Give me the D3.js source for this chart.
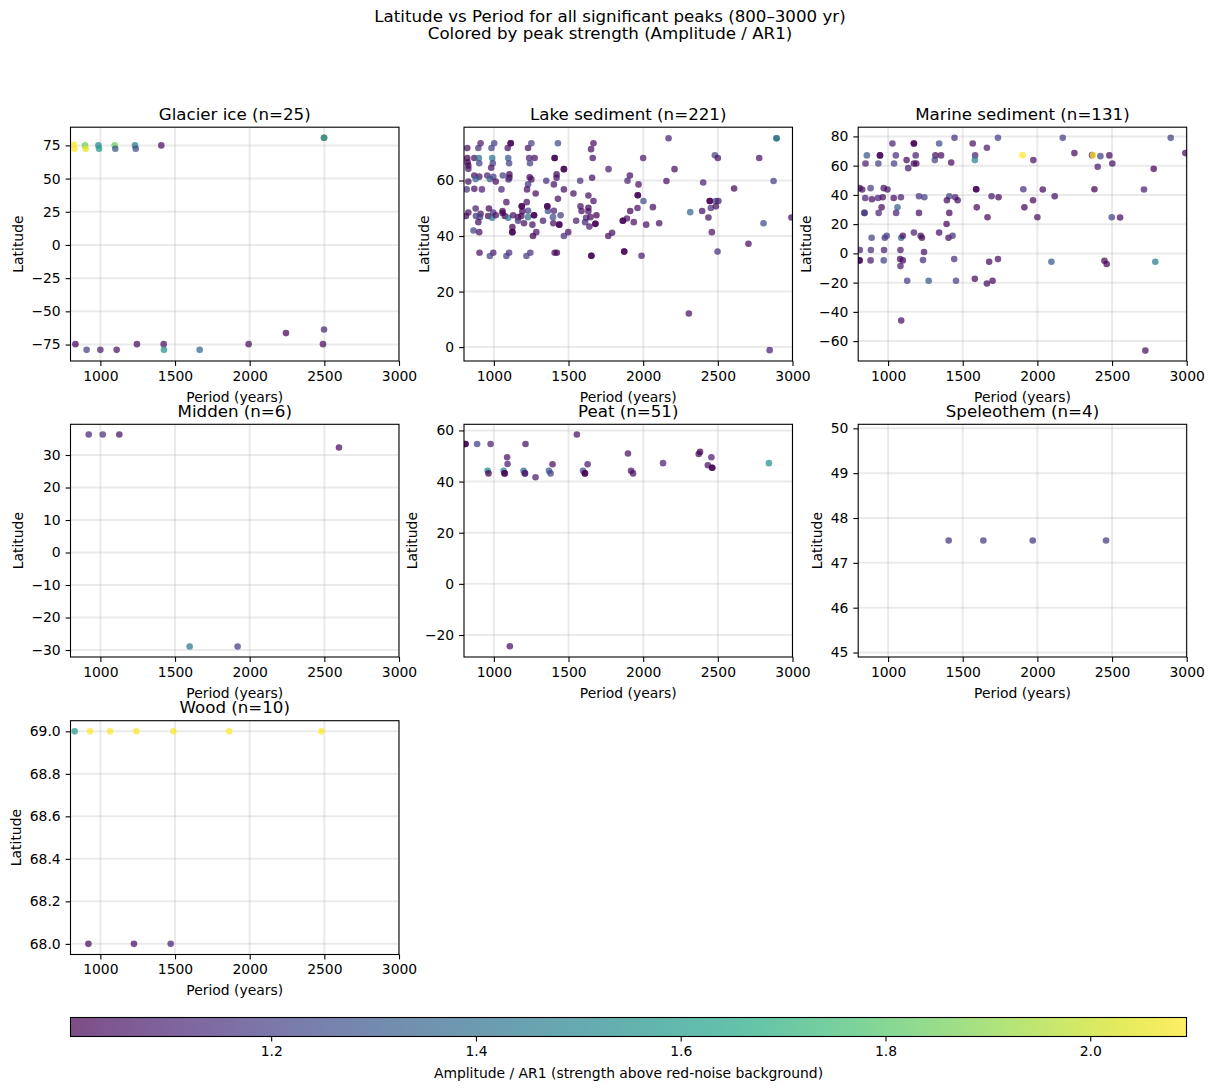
<!DOCTYPE html>
<html><head><meta charset="utf-8">
<style>
html,body{margin:0;padding:0;background:#fff}
svg{display:block}
text{font-family:"DejaVu Sans",sans-serif;fill:#000}
</style>
<script src="https://cdn.jsdelivr.net/npm/d3@7"></script>
</head><body><div id="chart"></div>
<script>
const glacierPeriod=[822,826,897,902,987,991,1096,1100,1232,1237,1408,2498,2498,2498,2243,1993,2491,833,908,1000,1109,1245,1424,1426,1665];
const glacierLat=[75.5,72.5,75,72.5,75,72.5,75,72.5,75,72.5,75,80.7,80.7,-63.7,-66.4,-74.7,-74.7,-74.7,-79,-79,-79,-74.7,-74.7,-79,-79];
const glacierAmp=[2.09,2.09,1.85,2.05,1.5,1.6,1.85,1.3,1.45,1.25,1.05,1.03,1.7,1.12,1.0,1.05,1.05,1.02,1.2,1.08,1.05,1.03,1.05,1.55,1.35];

const lakePeriod=[822,911,896,984,1002,1093,1113,1113,1229,1251,1429,1667,1651,822,869,900,989,1096,1236,1273,1407,1662,824,829,829,902,993,1102,1242,982,1469,869,902,956,878,973,996,1060,1104,1104,1098,1240,1251,1420,1420,1351,1578,1658,829,1013,1229,1402,818,869,920,1051,1222,1469,1280,1533,1633,1667,1429,1084,1220,1187,878,967,1358,1580,1633,1587,1633,829,911,996,1058,1058,1191,1229,1362,1402,813,880,907,962,989,1013,1073,1096,1129,1162,1184,1229,1269,1396,1447,1329,1551,1611,1618,1647,1687,896,1162,1202,1398,1438,1680,1640,1258,1124,864,902,1124,1284,1498,1262,1469,904,996,1102,1084,973,1244,1218,1407,1422,1653,2170,2893,2893,2000,2480,2500,2777,1768,2210,1911,1895,1969,2156,2402,2873,2609,1964,2002,2446,2487,2504,2065,1962,1913,2395,2453,2487,2315,1891,1864,1937,2437,2993,2107,2020,2806,1792,1766,2460,2705,1873,1989,2498,2306,2847,1407,1469,1653,1187,1438,1680,1124,1358,1964,1864,1873,2446,1269];
const lakeLat=[71.7,73.4,71.7,71.7,73.4,71.7,73.4,73.4,71.7,73.4,73.4,73.4,71.3,68.1,68.1,68.1,68.1,68.1,68.1,68.1,68.1,68.1,66.6,65.4,64.2,66.2,66.2,66.2,66.2,64.6,64.1,61.8,61.4,61.8,60.5,60.5,61.3,61.8,62.2,61,60.4,61.2,60.4,62.2,61,59.9,59.9,61,59.6,59.6,58.6,58.6,56.8,57,56.8,56.8,56.8,56.8,55.3,55.3,54.6,52.6,53.4,52.2,52.2,50.7,49.9,49.9,50.7,50.7,50.2,49,48.9,48.5,48,48.5,49,48.3,48.9,49.1,49,49.1,47.2,47.2,46.8,47.2,46.6,47.5,47.2,46.6,47.5,46.8,47.2,46.8,47.5,46.8,47.5,45.5,45.5,45,46.6,46.8,47.5,45,45.5,44.6,44.6,44.1,44.4,43.4,44.1,43.2,42,41.4,41.4,41.4,41.4,40,40,34,34,34,32.8,32.8,34,32.8,34,34,32.9,75.2,75.2,75.2,68.1,69.1,68.1,68.1,64.1,64.1,61.8,59.9,58.6,59.8,59.3,59.8,57.1,54.7,52.6,52.6,52.6,52.6,50.4,50.1,49,49,50.1,50.7,48.6,46.3,45.5,45,46.7,46.7,44.6,44.1,44.6,41.2,40,41.4,37.2,34.4,32.9,34.4,12.1,-1.1,68.1,64.1,32.9,50.7,44.1,44.4,41.4,50.7,54.7,45.5,34.4,52.6,47.5];
const lakeAmp=[1.05,1.08,1.15,1.2,1.2,1.05,1.02,1.02,1.05,1.2,1.25,1.05,1.05,1.0,1.05,1.4,1.4,1.3,1.1,1.05,1.0,1.05,1.0,1.0,1.05,1.2,1.2,1.2,1.2,1.05,1.0,1.05,1.05,1.1,1.35,1.3,1.2,1.2,1.0,1.0,1.15,1.0,1.05,1.0,1.05,1.15,1.15,1.05,1.05,1.05,1.15,1.05,1.15,1.05,1.08,1.12,1.05,1.05,1.03,1.05,1.05,1.05,1.05,1.05,1.05,1.0,1.08,1.0,1.0,1.05,1.0,1.05,1.05,1.05,1.05,1.15,1.02,1.0,1.02,1.2,1.25,1.1,1.02,1.15,1.2,1.02,1.4,1.05,1.0,1.4,1.05,1.05,1.0,1.4,1.0,1.25,1.2,1.08,1.08,1.12,1.12,1.05,1.0,1.05,1.15,1.05,1.05,1.0,1.0,1.08,1.05,1.0,1.2,1.05,1.0,1.05,1.05,1.0,1.15,1.05,1.08,1.15,1.2,1.2,1.15,1.2,1.05,1.0,1.0,1.1,1.4,1.4,1.08,1.2,1.05,1.05,1.1,1.05,1.05,1.1,1.05,1.05,1.1,1.2,1.02,1.0,1.25,1.0,1.2,1.1,1.05,1.05,1.02,1.05,1.15,1.05,1.35,1.05,1.0,1.05,1.05,1.05,1.05,1.05,1.25,1.05,1.05,1.05,1.03,1.02,1.08,1.15,1.05,1.1,1.0,1.0,1.0,1.0,1.0,1.0,1.0,1.0,1.0,1.0,1.0,1.0,1.0];

const marinePeriod=[1445,1029,1173,1173,1342,1567,1662,1736,858,946,946,1052,1185,1317,1355,1583,1581,849,935,1040,1124,1173,1189,1135,1313,1423,809,827,883,971,996,847,892,933,964,1038,1086,1207,1243,1410,1450,1394,1466,1590,1590,1693,1740,957,1063,1594,842,842,937,1054,1207,1410,1666,1392,1173,1342,890,978,991,1088,1099,1218,1227,1405,1432,811,885,973,1083,1241,809,809,883,971,1081,1099,1083,1234,1443,1677,1736,1128,1272,1455,1581,1662,1700,1088,2170,2893,1900,2248,2366,2373,2422,2482,2991,1973,2502,2404,2779,1906,2036,2382,2714,2116,1971,1913,2000,2498,2554,2094,2449,2464,2790,2723];
const marineLat=[79,75.2,75.2,75.2,75.2,75.2,72.2,79,67,67,67,67,67,67,67,67,63.8,61.5,61.5,61.5,63.8,61.5,61.5,58.3,63.8,62.2,44.6,43.7,44.6,44.6,43.7,37.9,37,37.9,38.4,37.9,38.4,39.1,38.4,39.1,38.4,36.3,36.3,43.9,43.9,39.1,38.4,31.5,31.5,31.5,27.7,27.7,27.7,27.7,27.7,27.7,24.7,20.1,14.2,14.2,10.7,10.7,12.1,10.7,12.1,12.1,10.7,10.7,12.1,2.3,2.3,2.3,2.3,0.9,-4.8,-4.8,-4.8,-4.8,-3.9,-4.8,-8.7,-4.6,-3.9,-5.7,-3.9,-18.7,-18.7,-18.7,-17.4,-20.6,-18.7,-45.9,79,79,67.2,68.6,67.2,67.2,66.5,67,68.6,63.8,61.5,59.2,57.8,43.9,43.7,43.9,43.7,39.1,36.3,31.5,24.7,24.7,24.5,-5.7,-5,-7.3,-5.7,-66.5];
const marineAmp=[1.15,1.1,1.0,1.0,1.25,1.05,1.08,1.2,1.3,1.02,1.02,1.15,1.1,1.05,1.05,1.1,1.5,1.08,1.2,1.2,1.03,1.03,1.03,1.08,1.2,1.03,1.02,1.05,1.2,1.05,1.05,1.1,1.05,1.1,1.03,1.03,1.1,1.15,1.2,1.2,1.1,1.03,1.03,1.0,1.0,1.08,1.03,1.03,1.35,1.03,1.2,1.15,1.12,1.1,1.05,1.03,1.03,1.03,1.1,1.05,1.2,1.15,1.2,1.35,1.05,1.05,1.03,1.03,1.15,1.1,1.15,1.1,1.08,1.05,1.05,1.0,1.08,1.2,1.03,1.03,1.08,1.15,1.15,1.03,1.05,1.2,1.3,1.2,1.03,1.03,1.03,1.05,1.2,1.2,2.09,1.03,1.05,2.09,1.2,1.03,1.03,1.05,1.05,1.08,1.0,1.15,1.03,1.0,1.1,1.05,1.03,1.02,1.05,1.2,1.03,1.3,1.02,1.0,1.45,1.05];

const middenPeriod=[922,1016,1127,2598,1598,1919];
const middenLat=[36.3,36.3,36.3,32.3,-28.9,-28.9];
const middenAmp=[1.12,1.15,1.05,1.04,1.42,1.18];

const peatPeriod=[810,810,888,978,1212,1556,1089,1092,1393,1628,1898,2133,2381,2372,2457,2433,2462,2462,2842,958,964,1065,1072,1072,1199,1208,1208,1369,1380,1597,1610,1610,1919,1932,1279,1107];
const peatLat=[54.7,54.7,54.7,54.7,54.7,58.4,49.5,46.9,46.8,46.8,51,47.2,51.6,50.8,49.5,46.4,45.4,45.4,47.2,44.2,43.2,44.2,43.2,43.2,44.2,43.2,43.2,44.2,43.2,44.2,43.2,43.2,44.2,43.2,41.7,-24.4];
const peatAmp=[1.0,1.0,1.2,1.1,1.05,1.05,1.05,1.08,1.05,1.08,1.05,1.1,1.0,1.03,1.08,1.05,1.0,1.0,1.55,1.5,1.0,1.45,1.0,1.0,1.35,1.1,1.1,1.3,1.2,1.25,1.0,1.0,1.05,1.05,1.08,1.05];

const speleoPeriod=[1406,1638,1969,2460];
const speleoLat=[47.5,47.5,47.5,47.5];
const speleoAmp=[1.17,1.17,1.17,1.17];

const woodPeriod=[828,931,1065,1241,1489,1862,2480,920,1225,1471];
const woodLat=[69,69,69,69,69,69,69,68,68,68];
const woodAmp=[1.6,2.09,2.09,2.09,2.09,2.09,2.09,1.03,1.05,1.12];

const panelNames=["Glacier ice (n=25)","Lake sediment (n=221)","Marine sediment (n=131)","Midden (n=6)","Peat (n=51)","Speleothem (n=4)","Wood (n=10)"];
const latDomains=[[-87.4,88.7],[-5,79.2],[-73.6,86.3],[-32.15,39.45],[-28.6,62.4],[44.9,50.09],[67.95,69.05]];
const latTicks=[[-75,-50,-25,0,25,50,75],[0,20,40,60],[-60,-40,-20,0,20,40,60,80],[-30,-20,-10,0,10,20,30],[-20,0,20,40,60],[45,46,47,48,49,50],[68,68.2,68.4,68.6,68.8,69]];
const latFormats=["d","d","d","d","d","d",".1f"];
const periodTicks=[1000,1500,2000,2500,3000];
const ampTicks=[1.2,1.4,1.6,1.8,2.0];
const periodDomain=[800,3000];
const ampDomain=[1.004,2.094];
const seriesP=[glacierPeriod,lakePeriod,marinePeriod,middenPeriod,peatPeriod,speleoPeriod,woodPeriod];
const seriesL=[glacierLat,lakeLat,marineLat,middenLat,peatLat,speleoLat,woodLat];
const seriesA=[glacierAmp,lakeAmp,marineAmp,middenAmp,peatAmp,speleoAmp,woodAmp];
seriesP.forEach((p,i)=>{ if(p.length!==seriesL[i].length||p.length!==seriesA[i].length) throw new Error("length mismatch "+i+": "+[p.length,seriesL[i].length,seriesA[i].length]); });

const W=1214,H=1089;
const colX=[[70.5,399],[464,792.5],[858.2,1186.7]];
const rowY=[[127.2,361],[424.3,657],[720.7,954.5]];
const ylabelX=[23,429,811,23,417,822,21];
const svg=d3.select("#chart").append("svg").attr("width",W).attr("height",H).attr("viewBox",[0,0,W,H]);
const color=d3.scaleSequential(d3.interpolateViridis).domain(ampDomain);

svg.append("text").attr("x",610).attr("y",22).attr("text-anchor","middle").attr("font-size",16.67).text("Latitude vs Period for all significant peaks (800–3000 yr)");
svg.append("text").attr("x",610).attr("y",39).attr("text-anchor","middle").attr("font-size",16.67).text("Colored by peak strength (Amplitude / AR1)");

panelNames.forEach((name,i)=>{
  const [x0,x1]=colX[i%3], [y0,y1]=rowY[Math.floor(i/3)];
  const x=d3.scaleLinear().domain(periodDomain).range([x0,x1]);
  const y=d3.scaleLinear().domain(latDomains[i]).range([y1,y0]);
  const g=svg.append("g");
  const clipId="clip"+i;
  svg.append("clipPath").attr("id",clipId).append("rect").attr("x",x0).attr("y",y0).attr("width",x1-x0).attr("height",y1-y0);
  const grid=g.append("g").attr("clip-path",`url(#${clipId})`).attr("stroke","#b0b0b0").attr("stroke-opacity",0.27).attr("stroke-width",2);
  grid.selectAll(".gx").data(periodTicks).join("line").attr("class","gx").attr("x1",d=>x(d)).attr("x2",d=>x(d)).attr("y1",y0).attr("y2",y1);
  grid.selectAll(".gy").data(latTicks[i]).join("line").attr("class","gy").attr("y1",d=>y(d)).attr("y2",d=>y(d)).attr("x1",x0).attr("x2",x1);
  const pts=seriesP[i].map((p,k)=>({p,l:seriesL[i][k],a:seriesA[i][k]}));
  g.append("g").attr("clip-path",`url(#${clipId})`).selectAll("circle").data(pts).join("circle")
    .attr("cx",d=>x(d.p)).attr("cy",d=>y(d.l)).attr("r",3.3).attr("fill",d=>color(d.a)).attr("fill-opacity",0.72);
  const ax=g.append("g").attr("transform",`translate(0,${y1})`).call(d3.axisBottom(x).tickValues(periodTicks).tickFormat(d3.format("d")).tickSize(4.9).tickPadding(5).tickSizeOuter(0));
  const ay=g.append("g").attr("transform",`translate(${x0},0)`).call(d3.axisLeft(y).tickValues(latTicks[i]).tickFormat(d3.format(latFormats[i])).tickSize(4.9).tickPadding(4.9).tickSizeOuter(0));
  [ax,ay].forEach(a=>{a.select(".domain").remove();a.selectAll("line").attr("stroke","#000").attr("stroke-width",1.1);a.selectAll("text").attr("font-size",13.9).attr("font-family",'"DejaVu Sans",sans-serif').attr("fill","#000");});
  g.append("rect").attr("x",x0).attr("y",y0).attr("width",x1-x0).attr("height",y1-y0).attr("fill","none").attr("stroke","#000").attr("stroke-width",1.1);
  g.append("text").attr("x",(x0+x1)/2).attr("y",y0-7.6).attr("text-anchor","middle").attr("font-size",16.67).text(name);
  g.append("text").attr("x",(x0+x1)/2).attr("y",y1+40.5).attr("text-anchor","middle").attr("font-size",13.9).text("Period (years)");
  g.append("text").attr("transform",`translate(${ylabelX[i]},${(y0+y1)/2}) rotate(-90)`).attr("text-anchor","middle").attr("font-size",13.9).text("Latitude");
});

// colour bar
const cx=d3.scaleLinear().domain(ampDomain).range([70.5,1186.5]);
const cbY=1017.5,cbH=19;
const defs=svg.append("defs");
const grad=defs.append("linearGradient").attr("id","cbGrad");
grad.selectAll("stop").data(d3.range(0,1.0001,0.02)).join("stop")
  .attr("offset",d=>d).attr("stop-color",d=>d3.interpolateViridis(d)).attr("stop-opacity",0.7);
svg.append("rect").attr("x",70.5).attr("y",cbY).attr("width",1116).attr("height",cbH).attr("fill","url(#cbGrad)");
svg.append("rect").attr("x",70.5).attr("y",cbY).attr("width",1116).attr("height",cbH).attr("fill","none").attr("stroke","#000").attr("stroke-width",1.1);
const cax=svg.append("g").attr("transform",`translate(0,${cbY+cbH})`).call(d3.axisBottom(cx).tickValues(ampTicks).tickFormat(d3.format(".1f")).tickSize(4.9).tickPadding(4.4).tickSizeOuter(0));
cax.select(".domain").remove();
cax.selectAll("line").attr("stroke","#000").attr("stroke-width",1.1);
cax.selectAll("text").attr("font-size",13.9).attr("font-family",'"DejaVu Sans",sans-serif').attr("fill","#000");
svg.append("text").attr("x",628.5).attr("y",1077.5).attr("text-anchor","middle").attr("font-size",13.9).text("Amplitude / AR1 (strength above red-noise background)");
</script></body></html>
